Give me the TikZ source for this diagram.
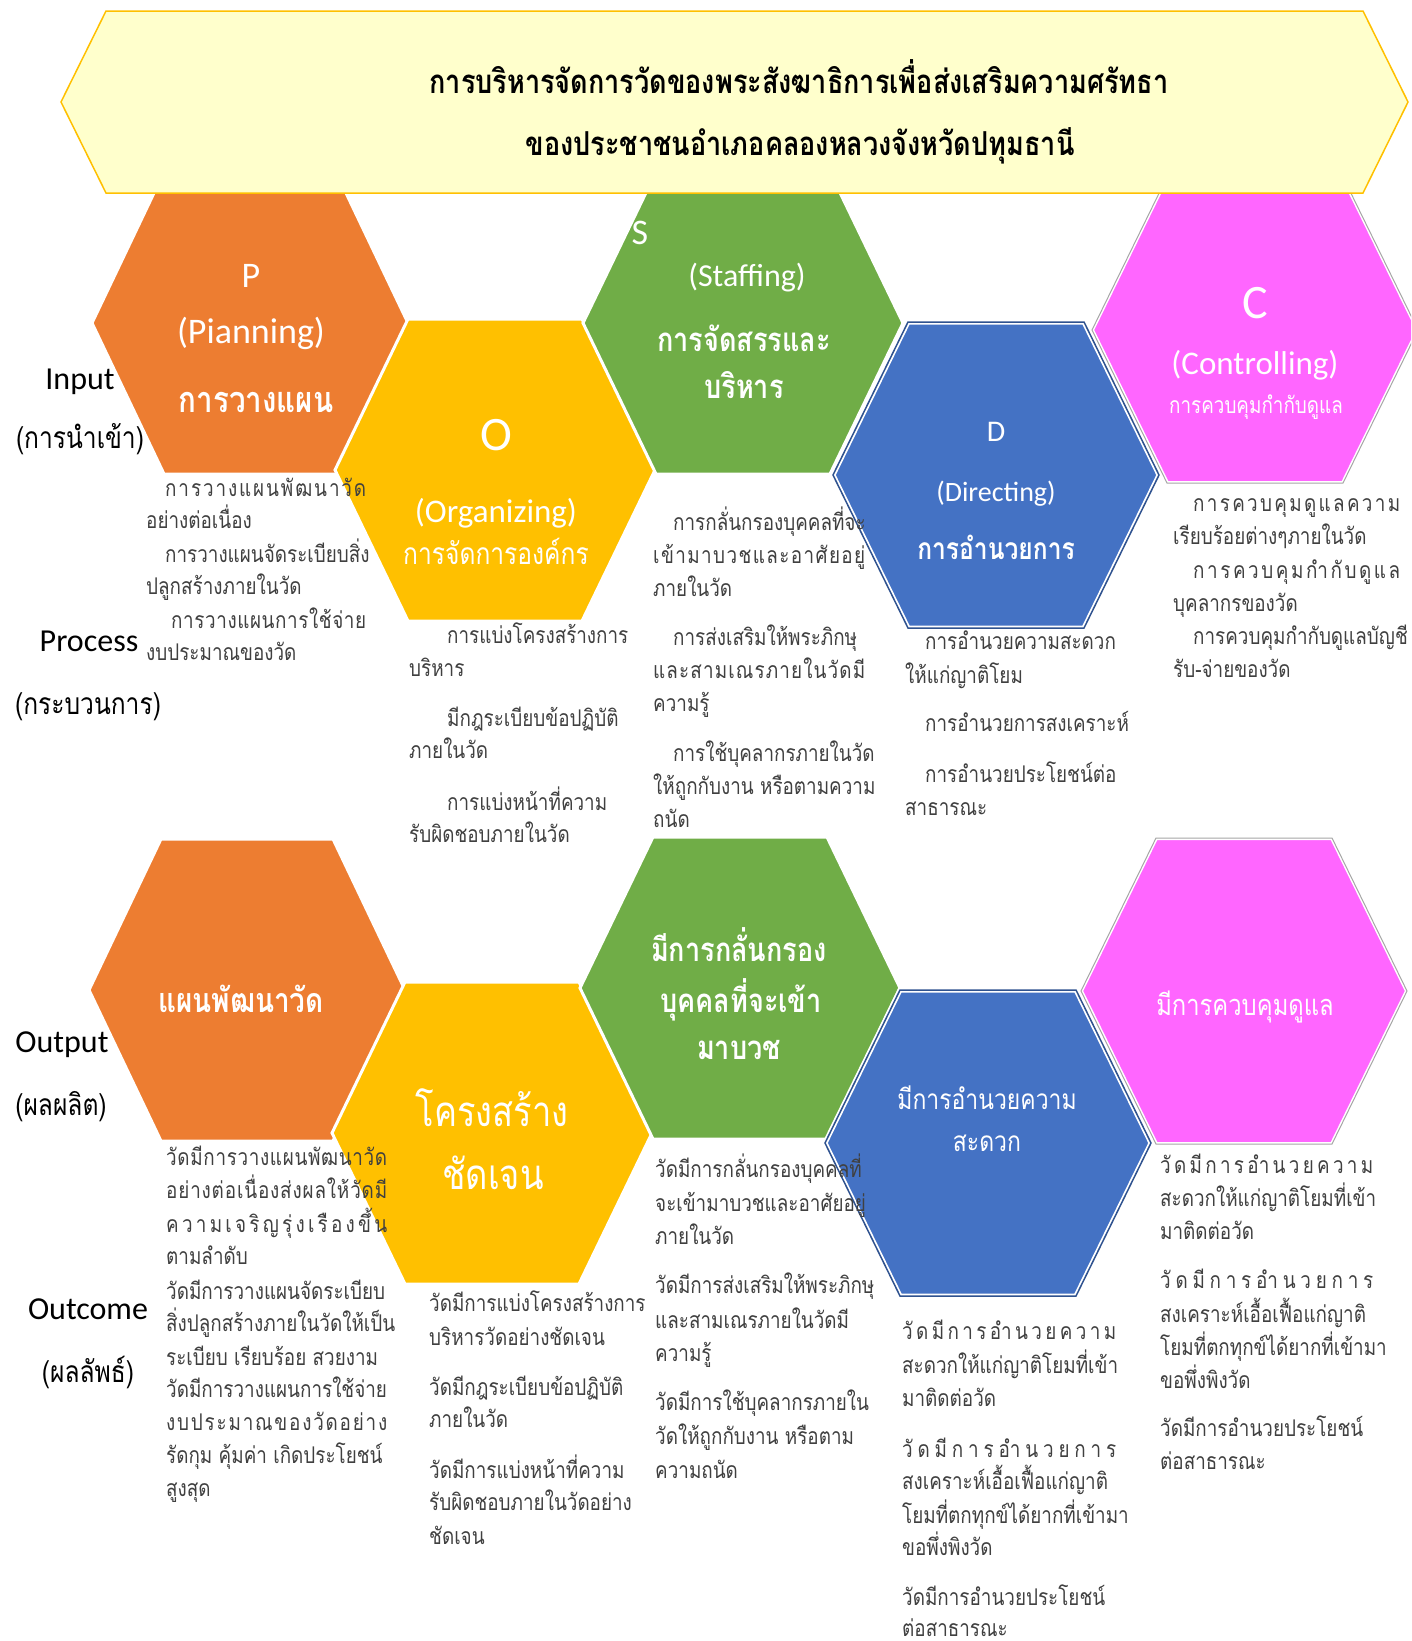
\documentclass[tikz,border=0pt]{standalone}
\usepackage{fontspec}
\setmainfont{Carlito}
\newfontfamily\thf[Script=Thai,FakeStretch=0.82]{Loma}
\definecolor{cor}{HTML}{ED7D31}
\definecolor{cye}{HTML}{FFC000}
\definecolor{cgr}{HTML}{70AD47}
\definecolor{cbl}{HTML}{4472C4}
\definecolor{cbd}{HTML}{2F528F}
\definecolor{cmg}{HTML}{FF66FF}
\definecolor{cmgd}{HTML}{A6A6A6}
\definecolor{bann}{HTML}{FFFFCC}
\definecolor{bodygray}{HTML}{404040}
\newcommand{\hexa}[6]{\path[#6] ({#1-#3},{#2}) -- ({#1-#5},{#2-#4}) -- ({#1+#5},{#2-#4}) -- ({#1+#3},{#2}) -- ({#1+#5},{#2+#4}) -- ({#1-#5},{#2+#4}) -- cycle;}
\newcommand{\BL}[4]{\node[body] (#1) at (#2,{#3+2}) {#4};}
\newcommand{\JL}[5]{\node[body] (#1) at (#2,{#3+2}) {\hbox to #4pt{#5}};}
\newcommand{\jf}{\hfil}
\tikzset{
  hexw/.style={line width=3pt, draw=white, line join=miter},
  body/.style={anchor=base west, inner sep=0pt, text=bodygray, font=\thf\fontsize{23}{27}\selectfont},
  lat/.style={inner sep=0pt, text height=0.64em, text depth=0pt, font=\fontsize{#1}{#1}\selectfont},
  tha/.style={inner sep=0pt, text height=0.6em, text depth=0.06em, font=\thf\fontsize{#1}{#1}\selectfont},
  thb/.style={inner sep=0pt, text height=0.6em, text depth=0.06em, font=\thf\bfseries\fontsize{#1}{#1}\selectfont},
  wt/.style={text=white},
}
\begin{document}
\begin{tikzpicture}[x=1pt,y=-1pt]
\useasboundingbox (0,0) rectangle (1411,1641);
\fill[white] (0,0) rectangle (1411,1641);
\clip (0,0) rectangle (1411,1641);
% top row hexagons
\hexa{250}{323}{158}{151}{86}{fill=cor, hexw}
\hexa{495}{470}{160}{151}{87}{fill=cye, hexw}
\hexa{743}{323}{160}{151}{87}{fill=cgr, hexw}
\hexa{996}{475}{163}{153}{88}{fill=cbl, draw=white, line width=5pt}
\hexa{996}{475}{163}{153}{88}{draw=cbd, line width=1.5pt}
\hexa{1255}{330}{163}{153}{88}{fill=cmg, draw=white, line width=4pt}
\hexa{1255}{330}{163}{153}{88}{draw=cmgd, line width=1pt}
% bottom row hexagons
\hexa{247}{990}{158}{151}{86}{fill=cor, hexw}
\hexa{492}{1133}{160}{151}{87}{fill=cye, hexw}
\hexa{740}{988}{160}{151}{87}{fill=cgr, hexw}
\hexa{988}{1143}{163}{153}{88}{fill=cbl, draw=white, line width=5pt}
\hexa{988}{1143}{163}{153}{88}{draw=cbd, line width=1.5pt}
\hexa{1244}{991}{163}{153}{88}{fill=cmg, draw=white, line width=4pt}
\hexa{1244}{991}{163}{153}{88}{draw=cmgd, line width=1pt}
% banner
\path[fill=bann, draw=cye, line width=1.5pt] (61,102) -- (106,11) -- (1363,11) -- (1408,102) -- (1363,193) -- (106,193) -- cycle;
\node[thb=33] (ti1) at (799,91) {การบริหารจัดการวัดของพระสังฆาธิการเพื่อส่งเสริมความศรัทธา};
\node[thb=33] (ti2) at (800,153) {ของประชาชนอำเภอคลองหลวงจังหวัดปทุมธานี};
% row labels
\node[lat=32] (lin) at (80,386) {Input};
\node[tha=30] (linth) at (80,446) {(การนำเข้า)};
\node[lat=32] (lpr) at (89,648) {Process};
\node[tha=30] (lprth) at (88,712) {(กระบวนการ)};
\node[lat=32] (lou) at (62,1049) {Output};
\node[tha=30] (louth) at (61,1113) {(ผลผลิต)};
\node[lat=32] (loc) at (88,1316) {Outcome};
\node[tha=30] (locth) at (88,1380) {(ผลลัพธ์)};
% hexagon texts top
\node[lat=36, wt] (hp1) at (251,284) {P};
\node[lat=36, wt] (hp2) at (251,340) {(Pianning)};
\node[thb=36, wt] (hp3) at (256,410) {การวางแผน};
\node[lat=48, wt] (ho1) at (496,447) {O};
\node[lat=33, wt] (ho2) at (496,519) {(Organizing)};
\node[tha=30, wt] (ho3) at (496,562) {การจัดการองค์กร};
\node[lat=36, wt] (hs1) at (640,241) {S};
\node[lat=32, wt] (hs2) at (747,283) {(Staffing)};
\node[thb=33, wt] (hs3) at (744,349) {การจัดสรรและ};
\node[thb=33, wt] (hs4) at (744,396) {บริหาร};
\node[lat=30, wt] (hd1) at (996,438) {D};
\node[lat=28, wt] (hd2) at (996,498) {(Directing)};
\node[thb=30, wt] (hd3) at (996,557) {การอำนวยการ};
\node[lat=48, wt] (hc1) at (1255,315) {C};
\node[lat=33, wt] (hc2) at (1255,371) {(Controlling)};
\node[tha=23, wt] (hc3) at (1256,411) {การควบคุมกำกับดูแล};
% hexagon texts bottom
\node[thb=34, wt] (bp1) at (241,1010) {แผนพัฒนาวัด};
\node[tha=42, wt] (bo1) at (492,1124) {โครงสร้าง};
\node[tha=42, wt] (bo2) at (493,1187) {ชัดเจน};
\node[thb=33, wt] (bs1) at (739,959) {มีการกลั่นกรอง};
\node[thb=33, wt] (bs2) at (741,1010) {บุคคลที่จะเข้า};
\node[thb=33, wt] (bs3) at (739,1057) {มาบวช};
\node[tha=28, wt] (bd1) at (987,1107) {มีการอำนวยความ};
\node[tha=28, wt] (bd2) at (987,1149) {สะดวก};
\node[tha=29, wt] (bc1) at (1245,1013) {มีการควบคุมดูแล};
% process texts
\JL{pp1}{165}{494}{201}{ก\jf า\jf ร\jf ว\jf า\jf ง\jf แ\jf ผ\jf น\jf พั\jf ฒ\jf น\jf า\jf วั\jf ด}
\BL{pp2}{146}{526}{อย่างต่อเนื่อง}
\BL{pp3}{165}{560}{การวางแผนจัดระเบียบสิ่ง}
\BL{pp4}{146}{592}{ปลูกสร้างภายในวัด}
\JL{pp5}{171}{626}{195}{ก\jf า\jf ร\jf ว\jf า\jf ง\jf แ\jf ผ\jf น\jf ก\jf า\jf ร\jf ใ\jf ช้\jf จ่\jf า\jf ย}
\BL{pp6}{146}{658}{งบประมาณของวัด}
\BL{op1}{447}{641}{การแบ่งโครงสร้างการ}
\BL{op2}{409}{674}{บริหาร}
\BL{op3}{447}{724}{มีกฎระเบียบข้อปฏิบัติ}
\BL{op4}{409}{756}{ภายในวัด}
\BL{op5}{447}{808}{การแบ่งหน้าที่ความ}
\BL{op6}{409}{840}{รับผิดชอบภายในวัด}
\BL{sp1}{673}{528}{การกลั่นกรองบุคคลที่จะ}
\JL{sp2}{653}{561}{212}{เ\jf ข้\jf า\jf ม\jf า\jf บ\jf ว\jf ช\jf แ\jf ล\jf ะ\jf อ\jf า\jf ศั\jf ย\jf อ\jf ยู่}
\BL{sp3}{653}{594}{ภายในวัด}
\BL{sp4}{673}{643}{การส่งเสริมให้พระภิกษุ}
\JL{sp5}{653}{676}{212}{แ\jf ล\jf ะ\jf ส\jf า\jf ม\jf เ\jf ณ\jf ร\jf ภ\jf า\jf ย\jf ใ\jf น\jf วั\jf ด\jf มี}
\BL{sp6}{653}{709}{ความรู้}
\BL{sp7}{673}{759}{การใช้บุคลากรภายในวัด}
\BL{sp8}{653}{792}{ให้ถูกกับงาน หรือตามความ}
\BL{sp9}{653}{825}{ถนัด}
\BL{dp1}{925}{647}{การอำนวยความสะดวก}
\BL{dp2}{905}{681}{ให้แก่ญาติโยม}
\BL{dp3}{925}{729}{การอำนวยการสงเคราะห์}
\BL{dp4}{925}{780}{การอำนวยประโยชน์ต่อ}
\BL{dp5}{905}{813}{สาธารณะ}
\JL{cp1}{1193}{509}{207}{ก\jf า\jf ร\jf ค\jf ว\jf บ\jf คุ\jf ม\jf ดู\jf แ\jf ล\jf ค\jf ว\jf า\jf ม}
\BL{cp2}{1173}{542}{เรียบร้อยต่างๆภายในวัด}
\JL{cp3}{1193}{576}{207}{ก\jf า\jf ร\jf ค\jf ว\jf บ\jf คุ\jf ม\jf กำ\jf กั\jf บ\jf ดู\jf แ\jf ล}
\BL{cp4}{1173}{609}{บุคลากรของวัด}
\BL{cp5}{1193}{642}{การควบคุมกำกับดูแลบัญชี}
\BL{cp6}{1173}{675}{รับ-จ่ายของวัด}
% outcome texts
\JL{po1}{166}{1163}{221}{วั\jf ด\jf มี\jf ก\jf า\jf ร\jf ว\jf า\jf ง\jf แ\jf ผ\jf น\jf พั\jf ฒ\jf น\jf า\jf วั\jf ด}
\JL{po2}{166}{1196}{221}{อ\jf ย่\jf า\jf ง\jf ต่\jf อ\jf เ\jf นื่\jf อ\jf ง\jf ส่\jf ง\jf ผ\jf ล\jf ใ\jf ห้\jf วั\jf ด\jf มี}
\JL{po3}{166}{1230}{221}{ค\jf ว\jf า\jf ม\jf เ\jf จ\jf ริ\jf ญ\jf รุ่\jf ง\jf เ\jf รื\jf อ\jf ง\jf ขึ้\jf น}
\BL{po4}{166}{1262}{ตามลำดับ}
\BL{po5}{166}{1297}{วัดมีการวางแผนจัดระเบียบ}
\BL{po6}{166}{1329}{สิ่งปลูกสร้างภายในวัดให้เป็น}
\BL{po7}{166}{1363}{ระเบียบ เรียบร้อย สวยงาม}
\BL{po8}{166}{1395}{วัดมีการวางแผนการใช้จ่าย}
\JL{po9}{166}{1428}{221}{ง\jf บ\jf ป\jf ร\jf ะ\jf ม\jf า\jf ณ\jf ข\jf อ\jf ง\jf วั\jf ด\jf อ\jf ย่\jf า\jf ง}
\BL{po10}{166}{1461}{รัดกุม คุ้มค่า เกิดประโยชน์}
\BL{po11}{166}{1494}{สูงสุด}
\BL{oo1}{429}{1309}{วัดมีการแบ่งโครงสร้างการ}
\BL{oo2}{429}{1343}{บริหารวัดอย่างชัดเจน}
\BL{oo3}{429}{1393}{วัดมีกฎระเบียบข้อปฏิบัติ}
\BL{oo4}{429}{1425}{ภายในวัด}
\BL{oo5}{429}{1476}{วัดมีการแบ่งหน้าที่ความ}
\BL{oo6}{429}{1508}{รับผิดชอบภายในวัดอย่าง}
\BL{oo7}{429}{1542}{ชัดเจน}
\BL{so1}{655}{1175}{วัดมีการกลั่นกรองบุคคลที่}
\BL{so2}{655}{1209}{จะเข้ามาบวชและอาศัยอยู่}
\BL{so3}{655}{1242}{ภายในวัด}
\BL{so4}{655}{1291}{วัดมีการส่งเสริมให้พระภิกษุ}
\BL{so5}{655}{1326}{และสามเณรภายในวัดมี}
\BL{so6}{655}{1359}{ความรู้}
\BL{so7}{655}{1408}{วัดมีการใช้บุคลากรภายใน}
\BL{so8}{655}{1442}{วัดให้ถูกกับงาน หรือตาม}
\BL{so9}{655}{1476}{ความถนัด}
\JL{do1}{902}{1337}{214}{วั\jf ด\jf มี\jf ก\jf า\jf ร\jf อำ\jf น\jf ว\jf ย\jf ค\jf ว\jf า\jf ม}
\BL{do2}{902}{1371}{สะดวกให้แก่ญาติโยมที่เข้า}
\BL{do3}{902}{1404}{มาติดต่อวัด}
\JL{do4}{902}{1455}{214}{วั\jf ด\jf มี\jf ก\jf า\jf ร\jf อำ\jf น\jf ว\jf ย\jf ก\jf า\jf ร}
\BL{do5}{902}{1487}{สงเคราะห์เอื้อเฟื้อแก่ญาติ}
\BL{do6}{902}{1521}{โยมที่ตกทุกข์ได้ยากที่เข้ามา}
\BL{do7}{902}{1553}{ขอพึ่งพิงวัด}
\BL{do8}{902}{1603}{วัดมีการอำนวยประโยชน์}
\BL{do9}{902}{1634}{ต่อสาธารณะ}
\JL{co1}{1160}{1171}{213}{วั\jf ด\jf มี\jf ก\jf า\jf ร\jf อำ\jf น\jf ว\jf ย\jf ค\jf ว\jf า\jf ม}
\BL{co2}{1160}{1204}{สะดวกให้แก่ญาติโยมที่เข้า}
\BL{co3}{1160}{1237}{มาติดต่อวัด}
\JL{co4}{1160}{1286}{213}{วั\jf ด\jf มี\jf ก\jf า\jf ร\jf อำ\jf น\jf ว\jf ย\jf ก\jf า\jf ร}
\BL{co5}{1160}{1320}{สงเคราะห์เอื้อเฟื้อแก่ญาติ}
\BL{co6}{1160}{1353}{โยมที่ตกทุกข์ได้ยากที่เข้ามา}
\BL{co7}{1160}{1386}{ขอพึ่งพิงวัด}
\BL{co8}{1160}{1434}{วัดมีการอำนวยประโยชน์}
\BL{co9}{1160}{1467}{ต่อสาธารณะ}
\end{tikzpicture}
\end{document}
